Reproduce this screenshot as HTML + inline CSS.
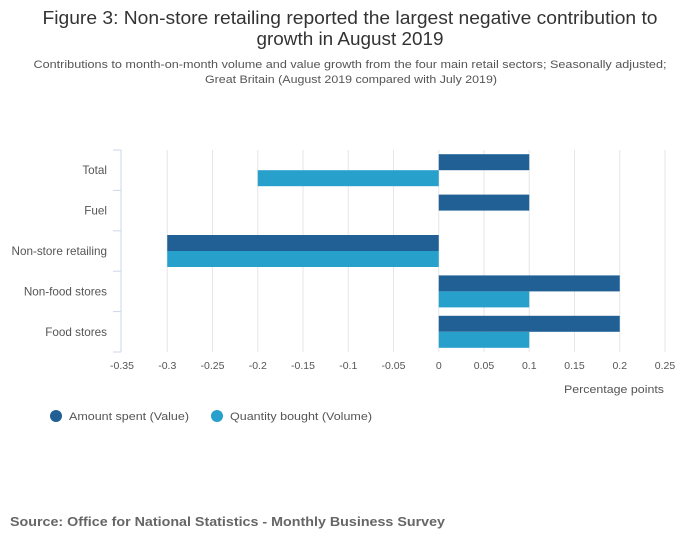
<!DOCTYPE html>
<html><head><meta charset="utf-8"><style>
body{margin:0;background:#fff;font-family:"Liberation Sans",sans-serif;}
</style></head><body>
<svg width="700" height="549" xmlns="http://www.w3.org/2000/svg" id="chart">
<text x="350" y="24" text-anchor="middle" font-size="18" fill="#333" textLength="615" lengthAdjust="spacingAndGlyphs">Figure 3: Non-store retailing reported the largest negative contribution to</text>
<text x="350" y="45" text-anchor="middle" font-size="18" fill="#333" textLength="187" lengthAdjust="spacingAndGlyphs">growth in August 2019</text>
<text x="350" y="68" text-anchor="middle" font-size="11" fill="#555" textLength="633" lengthAdjust="spacingAndGlyphs">Contributions to month-on-month volume and value growth from the four main retail sectors; Seasonally adjusted;</text>
<text x="351" y="83" text-anchor="middle" font-size="11" fill="#555" textLength="292" lengthAdjust="spacingAndGlyphs">Great Britain (August 2019 compared with July 2019)</text>
<g id="grid"></g><g id="bars"></g><g id="axes"></g>
<text x="664" y="393" text-anchor="end" font-size="11" fill="#555" textLength="100" lengthAdjust="spacingAndGlyphs">Percentage points</text>
<g><circle cx="56" cy="416" r="6" fill="#206095"/><text x="69" y="420" font-size="11" fill="#555" textLength="120" lengthAdjust="spacingAndGlyphs">Amount spent (Value)</text></g>
<g><circle cx="217" cy="416" r="6" fill="#27a0cc"/><text x="230" y="420" font-size="11" fill="#555" textLength="142" lengthAdjust="spacingAndGlyphs">Quantity bought (Volume)</text></g>
<text x="10" y="526" font-size="13" font-weight="bold" fill="#666" textLength="435" lengthAdjust="spacingAndGlyphs">Source: Office for National Statistics - Monthly Business Survey</text>
</svg>
<script>
const categories=["Total","Fuel","Non-store retailing","Non-food stores","Food stores"];
const valueSeries=[0.1,0.1,-0.3,0.2,0.2];
const volumeSeries=[-0.2,0,-0.3,0.1,0.1];
const xTicks=[-0.35,-0.3,-0.25,-0.2,-0.15,-0.1,-0.05,0,0.05,0.1,0.15,0.2,0.25];
const NS="http://www.w3.org/2000/svg";
const x0=122,x1=665,yTop=150,yBot=352,vmin=-0.35,vmax=0.25;
function xs(v){return x0+(v-vmin)/(vmax-vmin)*(x1-x0);}
const band=(yBot-yTop)/categories.length;
function mk(t,a,p){const e=document.createElementNS(NS,t);for(const k in a)e.setAttribute(k,a[k]);document.getElementById(p).appendChild(e);return e;}
xTicks.forEach((t,i)=>{
  if(i>0){const l=mk('line',{x1:xs(t),x2:xs(t),y1:yTop,y2:yBot,stroke:'#e6e6e6'},'grid');
  
  }
  const tx=mk('text',{x:xs(t),y:yBot+17,'text-anchor':'middle','font-size':10.5,fill:'#555'},'axes');
  tx.textContent=String(t);
  
  
});
const ax=mk('line',{x1:x0-1,x2:x0-1,y1:yTop,y2:yBot,stroke:'#ccd6eb'},'axes');


for(let i=0;i<=categories.length;i++){const y=yTop+i*band;
  const tk=mk('line',{x1:x0-9,x2:x0-1,y1:y,y2:y,stroke:'#ccd6eb'},'axes');
  
  }
categories.forEach((c,i)=>{
  const cy=yTop+band*(i+0.5);
  const tx=mk('text',{x:107,y:cy+4,'text-anchor':'end','font-size':11.7,fill:'#555'},'axes');
  tx.textContent=c;
  
  
  [[valueSeries[i],'#206095',cy-16],[volumeSeries[i],'#27a0cc',cy]].forEach((s,j)=>{
    if(s[0]===0)return;
    const a=xs(Math.min(0,s[0])),b=xs(Math.max(0,s[0]));
    const r=mk('rect',{x:a,y:s[2],width:b-a,height:16,fill:s[1]},'bars');
    
    
  });
});
</script>
</body></html>
